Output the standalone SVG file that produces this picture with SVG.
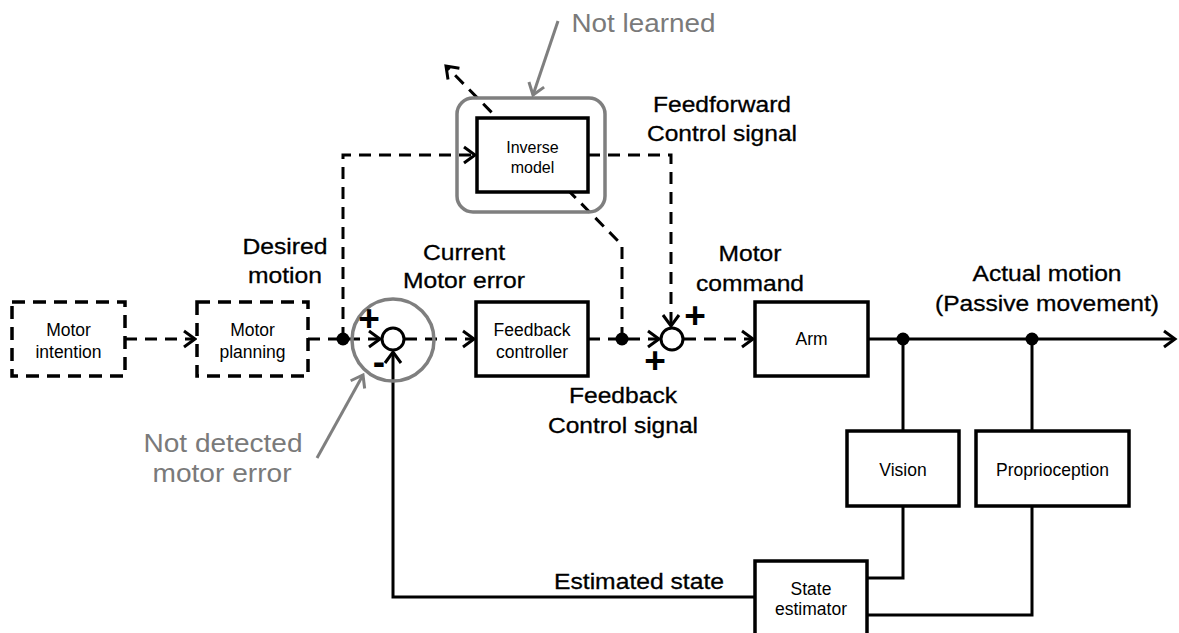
<svg xmlns="http://www.w3.org/2000/svg" width="1179" height="633" viewBox="0 0 1179 633">
<style>
.bg{fill:#fff}
.box{fill:#fff;stroke:#000;stroke-width:3.5}
.dbox{fill:#fff;stroke:#000;stroke-width:3.5;stroke-dasharray:13 8}
.gray{fill:none;stroke:#7f7f7f;stroke-width:3.5}
.ln{fill:none;stroke:#000;stroke-width:3}
.dl{fill:none;stroke:#000;stroke-width:3;stroke-dasharray:12 8}
.gl{fill:none;stroke:#7f7f7f;stroke-width:3}
.sum{fill:#fff;stroke:#000;stroke-width:3}
.dot{fill:#000}
.bt{font-family:"Liberation Sans",Arial,sans-serif;font-size:17.5px;fill:#000;text-anchor:middle}
.lb{font-family:"Liberation Sans",Arial,sans-serif;font-size:22px;fill:#000;text-anchor:middle;stroke:#000;stroke-width:0.3}
.gt{font-family:"Liberation Sans",Arial,sans-serif;font-size:25px;fill:#7a7a7a;text-anchor:middle}
.sg{font-family:"Liberation Sans",Arial,sans-serif;font-size:37px;font-weight:bold;fill:#000;text-anchor:middle}
</style>
<defs>
<marker id="ah" markerUnits="userSpaceOnUse" markerWidth="30" markerHeight="30" viewBox="-15 -15 30 30" refX="0" refY="0" orient="auto">
<path d="M-11,-8 L0,0 L-11,8" fill="none" stroke="#000" stroke-width="3" stroke-dasharray="none"/>
</marker>
<marker id="gah" markerUnits="userSpaceOnUse" markerWidth="30" markerHeight="30" viewBox="-15 -15 30 30" refX="0" refY="0" orient="auto">
<path d="M-11,-8 L0,0 L-11,8" fill="none" stroke="#7f7f7f" stroke-width="3" stroke-dasharray="none"/>
</marker>
</defs>
<rect class="bg" x="0" y="0" width="1179" height="633"/>

<g id="connectors">
<path class="dl" d="M125,339 H195" marker-end="url(#ah)"/>
<path class="dl" d="M308,339 H380" marker-end="url(#ah)"/>
<path class="dl" d="M343,339 V155 H475" marker-end="url(#ah)"/>
<path class="dl" d="M405,339 H474" marker-end="url(#ah)"/>
<path class="dl" d="M588,339 H659" marker-end="url(#ah)"/>
<path class="dl" d="M588,155 H671 V326" marker-end="url(#ah)"/>
<path class="dl" d="M622,339 V245 L446,66" marker-end="url(#ah)"/>
<path class="dl" d="M684,339 H753" marker-end="url(#ah)"/>
<path class="ln" d="M868,339 H1175" marker-end="url(#ah)"/>
<path class="ln" d="M903,339 V431"/>
<path class="ln" d="M1032,339 V431"/>
<path class="ln" d="M903,506 V578 H867"/>
<path class="ln" d="M1032,506 V615 H867"/>
<path class="ln" d="M755,597 H393 V352" marker-end="url(#ah)"/>
<path class="gl" d="M558,21 L533,95" marker-end="url(#gah)"/>
<path class="gl" d="M317,458 L363,375" marker-end="url(#gah)"/>
<circle class="dot" cx="343" cy="339" r="6.5"/>
<circle class="dot" cx="622" cy="339" r="6.5"/>
<circle class="dot" cx="903" cy="339" r="6.5"/>
<circle class="dot" cx="1032" cy="339" r="6.5"/>
</g>

<g id="motor-intention">
<rect class="dbox" x="12" y="302" width="113" height="74"/>
<text class="bt" x="68.5" y="336">Motor</text>
<text class="bt" x="68.5" y="358">intention</text>
</g>

<g id="motor-planning">
<rect class="dbox" x="197" y="302" width="111" height="74"/>
<text class="bt" x="252.5" y="336">Motor</text>
<text class="bt" x="252.5" y="358">planning</text>
</g>

<g id="inverse-model">
<rect class="gray" x="457" y="98" width="148" height="114" rx="16"/>
<rect class="box" x="477" y="118" width="111" height="74"/>
<text class="bt" x="532.5" y="153" style="font-size:16px">Inverse</text>
<text class="bt" x="532.5" y="173" style="font-size:16px">model</text>
</g>

<g id="sum1">
<circle class="gray" cx="393" cy="340" r="41"/>
<circle class="sum" cx="393" cy="339" r="11"/>
<text class="sg" x="369" y="331">+</text>
<text class="sg" x="379" y="374">-</text>
</g>

<g id="feedback-controller">
<rect class="box" x="476" y="302" width="112" height="74"/>
<text class="bt" x="532" y="336">Feedback</text>
<text class="bt" x="532" y="358">controller</text>
</g>

<g id="sum2">
<circle class="sum" cx="672" cy="339" r="11"/>
<text class="sg" x="695" y="328">+</text>
<text class="sg" x="655" y="373">+</text>
</g>

<g id="arm">
<rect class="box" x="755" y="302" width="113" height="74"/>
<text class="bt" x="811.5" y="345">Arm</text>
</g>

<g id="vision">
<rect class="box" x="847" y="431" width="112" height="75"/>
<text class="bt" x="903" y="476">Vision</text>
</g>

<g id="proprioception">
<rect class="box" x="976" y="431" width="153" height="75"/>
<text class="bt" x="1052.5" y="476">Proprioception</text>
</g>

<g id="state-estimator">
<rect class="box" x="755" y="561" width="112" height="80"/>
<text class="bt" x="811" y="595">State</text>
<text class="bt" x="811" y="615">estimator</text>
</g>

<g id="labels">
<text class="gt" x="643.5" y="32" textLength="144" lengthAdjust="spacingAndGlyphs">Not learned</text>
<text class="lb" x="722" y="112" textLength="138" lengthAdjust="spacingAndGlyphs">Feedforward</text>
<text class="lb" x="722" y="141" textLength="150" lengthAdjust="spacingAndGlyphs">Control signal</text>
<text class="lb" x="285" y="254" textLength="85" lengthAdjust="spacingAndGlyphs">Desired</text>
<text class="lb" x="285" y="283" textLength="74" lengthAdjust="spacingAndGlyphs">motion</text>
<text class="lb" x="464" y="260" textLength="82" lengthAdjust="spacingAndGlyphs">Current</text>
<text class="lb" x="464" y="288" textLength="122" lengthAdjust="spacingAndGlyphs">Motor error</text>
<text class="lb" x="750" y="261" textLength="63" lengthAdjust="spacingAndGlyphs">Motor</text>
<text class="lb" x="750" y="291" textLength="108" lengthAdjust="spacingAndGlyphs">command</text>
<text class="lb" x="1047" y="281" textLength="149" lengthAdjust="spacingAndGlyphs">Actual motion</text>
<text class="lb" x="1047" y="311" textLength="224" lengthAdjust="spacingAndGlyphs">(Passive movement)</text>
<text class="lb" x="623" y="403" textLength="108" lengthAdjust="spacingAndGlyphs">Feedback</text>
<text class="lb" x="623" y="433" textLength="150" lengthAdjust="spacingAndGlyphs">Control signal</text>
<text class="lb" x="639" y="589" textLength="170" lengthAdjust="spacingAndGlyphs">Estimated state</text>
<text class="gt" x="223" y="452" textLength="159" lengthAdjust="spacingAndGlyphs">Not detected</text>
<text class="gt" x="222" y="482" textLength="139" lengthAdjust="spacingAndGlyphs">motor error</text>
</g>
</svg>
